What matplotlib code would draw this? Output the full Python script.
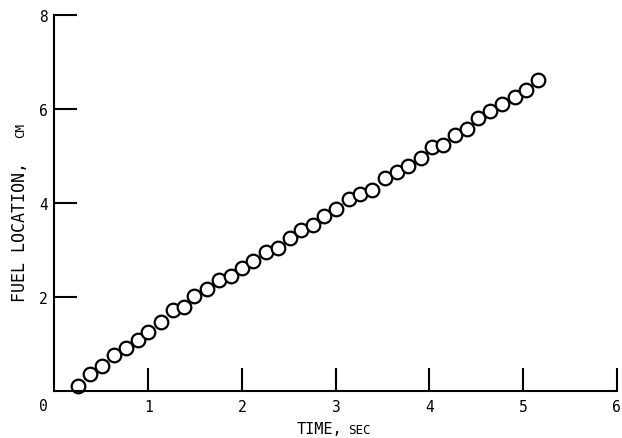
import matplotlib
matplotlib.use("Agg")
import matplotlib.pyplot as plt

# Fuel location vs time
time_sec = [0.25, 0.38, 0.51, 0.63, 0.76, 0.89, 1.00, 1.14, 1.26, 1.38,
            1.49, 1.63, 1.76, 1.88, 2.00, 2.12, 2.26, 2.38, 2.51, 2.63,
            2.76, 2.88, 3.00, 3.14, 3.26, 3.39, 3.53, 3.66, 3.77, 3.91,
            4.03, 4.15, 4.27, 4.40, 4.52, 4.65, 4.78, 4.91, 5.03, 5.16]
fuel_cm = [0.09, 0.36, 0.53, 0.75, 0.90, 1.09, 1.26, 1.47, 1.72, 1.79,
           2.02, 2.17, 2.36, 2.45, 2.62, 2.76, 2.95, 3.04, 3.25, 3.42,
           3.52, 3.73, 3.86, 4.09, 4.18, 4.27, 4.54, 4.65, 4.79, 4.96,
           5.18, 5.23, 5.45, 5.57, 5.80, 5.96, 6.10, 6.26, 6.40, 6.62]

x_ticks = [1, 2, 3, 4, 5, 6]
y_ticks = [2, 4, 6, 8]

font = "DejaVu Sans Mono"

fig = plt.figure(figsize=(6.22, 4.39), dpi=100)
ax = fig.add_axes([0.0876, 0.1077, 0.9039, 0.8558])

ax.plot(time_sec, fuel_cm, linestyle="none", marker="o", markersize=9.8,
        markerfacecolor="white", markeredgecolor="black", markeredgewidth=1.6,
        clip_on=False)

ax.set_xlim(0, 6)
ax.set_ylim(0, 8)
ax.set_xticks(x_ticks)
ax.set_yticks(y_ticks)
ax.set_xticklabels([str(t) for t in x_ticks], family=font, fontsize=10.5)
ax.set_yticklabels([str(t) for t in y_ticks], family=font, fontsize=10.5)
ax.tick_params(direction="in", length=16.5, width=1.5, color="black")
ax.tick_params(axis="x", pad=6)
ax.tick_params(axis="y", pad=5)

for side in ["top", "right"]:
    ax.spines[side].set_visible(False)
for side in ["left", "bottom"]:
    ax.spines[side].set_linewidth(1.5)

# origin label sits below-left of the corner
fig.text(0.0696, 0.0736, "0", family=font, fontsize=10.5, ha="center", va="center")

# axis titles, with the units set smaller (shared baseline)
fig.text(0.5498, 0.0125, "TIME,", family=font, fontsize=11, ha="right", va="baseline")
fig.text(0.5595, 0.0125, "SEC", family=font, fontsize=9, ha="left", va="baseline")
fig.text(0.0394, 0.312, "FUEL LOCATION,", family=font, fontsize=12,
         rotation=90, rotation_mode="anchor", ha="left", va="baseline")
fig.text(0.0394, 0.7198, "CM", family=font, fontsize=9,
         rotation=90, rotation_mode="anchor", ha="right", va="baseline")

fig.savefig("out.png", dpi=100)
